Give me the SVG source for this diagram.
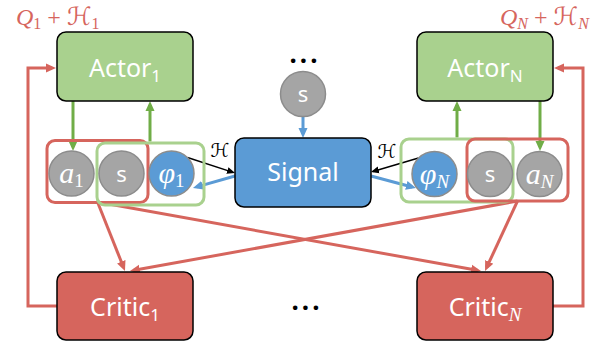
<svg xmlns="http://www.w3.org/2000/svg" width="603" height="345" viewBox="0 0 603 345">
<style>
.actor{fill:#a9d18e;stroke:#000;stroke-width:1.5}
.signal{fill:#5b9bd5;stroke:#000;stroke-width:1.5}
.critic{fill:#d6655d;stroke:#000;stroke-width:1.5}
.lbl{font-family:"Noto Sans","Open Sans",sans-serif;fill:#fff;font-size:25px;text-anchor:middle}
.sl{font-family:"Noto Sans","Open Sans",sans-serif;fill:#fff;font-size:22px;text-anchor:middle}
.gray{fill:#a5a5a5;stroke:#8c8c8c;stroke-width:1.5}
.blue{fill:#5b9bd5;stroke:#8c8c8c;stroke-width:1.5}
.math{font-family:"Liberation Serif","DejaVu Serif",serif;font-style:italic;fill:#fff;text-anchor:middle;font-size:30px}
.rbox{fill:none;stroke:#d6655d;stroke-width:3}
.gbox{fill:none;stroke:#a9d18e;stroke-width:3}
.red{fill:none;stroke:#d6655d;stroke-width:3}
.green{fill:none;stroke:#70ad47;stroke-width:3}
.bl{fill:none;stroke:#5b9bd5;stroke-width:3}
.blk{fill:none;stroke:#000;stroke-width:1.5}
.q{font-family:"Liberation Serif","DejaVu Serif",serif;fill:#d6655d;font-size:24px}
.hs{font-family:"DejaVu Serif","DejaVu Sans",serif;font-style:italic;font-size:25px}
.h{font-family:"DejaVu Serif","DejaVu Sans",serif;font-style:italic;fill:#000;font-size:19px;text-anchor:middle}
.dots{font-family:"Noto Sans",sans-serif;font-weight:bold;font-size:26px;fill:#000;text-anchor:middle;letter-spacing:3px}
</style>
<defs>
<marker id="ar" markerUnits="userSpaceOnUse" markerWidth="10" markerHeight="10" refX="6" refY="5" orient="auto"><path d="M0,0.5 L10,5 L0,9.5 z" fill="#d6655d"/></marker>
<marker id="ag" markerUnits="userSpaceOnUse" markerWidth="10" markerHeight="10" refX="6" refY="5" orient="auto"><path d="M0,0.5 L10,5 L0,9.5 z" fill="#70ad47"/></marker>
<marker id="ab" markerUnits="userSpaceOnUse" markerWidth="10" markerHeight="10" refX="6" refY="5" orient="auto"><path d="M0,0.5 L10,5 L0,9.5 z" fill="#5b9bd5"/></marker>
<marker id="ak" markerUnits="userSpaceOnUse" markerWidth="8" markerHeight="8" refX="6" refY="4" orient="auto"><path d="M0,0.5 L8,4 L0,7.5 z" fill="#000"/></marker>
</defs>

<g id="connectors">
<path class="red" d="M57,306 H28 V68 H52" marker-end="url(#ar)"/>
<path class="red" d="M553,306 H583 V68 H558" marker-end="url(#ar)"/>
<line class="red" x1="97.5" y1="202" x2="123.5" y2="267.3" marker-end="url(#ar)"/>
<line class="red" x1="97.5" y1="202" x2="477.1" y2="270.3" marker-end="url(#ar)"/>
<line class="red" x1="517.5" y1="201" x2="133.9" y2="270.3" marker-end="url(#ar)"/>
<line class="red" x1="517.5" y1="201" x2="486.7" y2="267.4" marker-end="url(#ar)"/>
<line class="green" x1="73" y1="101" x2="73" y2="147" marker-end="url(#ag)"/>
<line class="green" x1="150" y1="141.5" x2="150" y2="105" marker-end="url(#ag)"/>
<line class="green" x1="457" y1="137.5" x2="457" y2="105" marker-end="url(#ag)"/>
<line class="green" x1="540" y1="101" x2="540" y2="147" marker-end="url(#ag)"/>
<line class="bl" x1="303" y1="116.5" x2="303" y2="134" marker-end="url(#ab)"/>
<line class="bl" x1="235" y1="176" x2="196.8" y2="186.9" marker-end="url(#ab)"/>
<line class="bl" x1="371" y1="176" x2="412.1" y2="187" marker-end="url(#ab)"/>
<line class="blk" x1="187.5" y1="157.5" x2="233.1" y2="172.4" marker-end="url(#ak)"/>
<line class="blk" x1="418.5" y1="158" x2="372.9" y2="171.5" marker-end="url(#ak)"/>
<text class="h" x="220" y="157">ℋ</text>
<text class="h" x="387" y="158">ℋ</text>
</g>

<g id="label-q1"><text class="q" x="16" y="25"><tspan font-style="italic">Q</tspan><tspan font-size="16" dy="4">1</tspan><tspan dy="-4"> + </tspan><tspan class="hs">ℋ</tspan><tspan font-size="16" dy="4">1</tspan></text></g>
<g id="label-qn"><text class="q" x="500" y="25"><tspan font-style="italic">Q</tspan><tspan font-size="16" dy="4" font-style="italic">N</tspan><tspan dy="-4"> + </tspan><tspan class="hs">ℋ</tspan><tspan font-size="16" dy="4" font-style="italic">N</tspan></text></g>

<g id="actor1"><rect class="actor" x="57" y="32" width="136" height="69" rx="9"/><text class="lbl" x="125" y="77">Actor<tspan font-size="17" dy="5">1</tspan></text></g>
<g id="actorN"><rect class="actor" x="417" y="32" width="136" height="69" rx="9"/><text class="lbl" x="485" y="77">Actor<tspan font-size="17" dy="5">N</tspan></text></g>
<g id="signal"><rect class="signal" x="235" y="138" width="136" height="69" rx="9"/><text class="lbl" x="303" y="181">Signal</text></g>
<g id="critic1"><rect class="critic" x="57" y="272" width="136" height="68" rx="9"/><text class="lbl" x="125" y="316">Critic<tspan font-size="17" dy="5">1</tspan></text></g>
<g id="criticN"><rect class="critic" x="417" y="272" width="136" height="68" rx="9"/><text class="lbl" x="485" y="316">Critic<tspan font-size="19" dy="5" font-family="Liberation Serif, serif" font-style="italic">N</tspan></text></g>

<g id="s-top"><circle class="gray" cx="303" cy="94" r="22.5"/><text class="sl" x="303" y="102">s</text></g>
<g id="dots-top"><text class="dots" x="305" y="63">...</text></g>
<g id="dots-bottom"><text class="dots" x="307" y="310">...</text></g>

<g id="group1">
<rect class="rbox" x="47" y="140.5" width="101" height="62" rx="8"/>
<rect class="gbox" x="97" y="143" width="107" height="62" rx="8"/>
</g>
<g id="a1"><circle class="gray" cx="71.5" cy="173.5" r="22.5"/><text class="math" x="71.5" y="183">a<tspan font-size="19" dy="4" font-style="normal">1</tspan></text></g>
<g id="s1"><circle class="gray" cx="121.5" cy="173.5" r="22.5"/><text class="sl" x="121.5" y="181.5">s</text></g>
<g id="phi1"><circle class="blue" cx="171.5" cy="173.5" r="22.5"/><text class="math" x="171.5" y="183">φ<tspan font-size="19" dy="4" font-style="normal">1</tspan></text></g>

<g id="groupN">
<rect class="gbox" x="401" y="139" width="112" height="63" rx="8"/>
<rect class="rbox" x="467" y="139" width="101" height="62" rx="8"/>
</g>
<g id="phiN"><circle class="blue" cx="434.5" cy="174" r="22.5"/><text class="math" x="434.5" y="183.5">φ<tspan font-size="19" dy="4">N</tspan></text></g>
<g id="sN"><circle class="gray" cx="490" cy="174" r="22.5"/><text class="sl" x="490" y="182">s</text></g>
<g id="aN"><circle class="gray" cx="539.5" cy="174" r="22.5"/><text class="math" x="539.5" y="183.5">a<tspan font-size="19" dy="4">N</tspan></text></g>
</svg>
